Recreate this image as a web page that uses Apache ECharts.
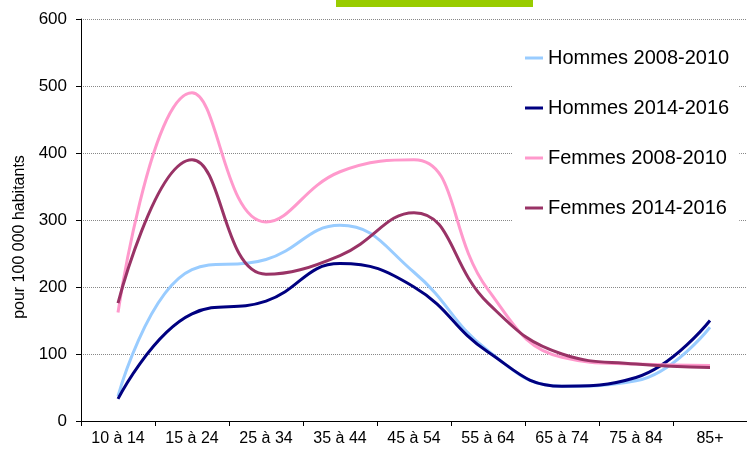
<!DOCTYPE html>
<html>
<head>
    <meta charset="utf-8">
    <title>Taux pour 100 000 habitants</title>
    <script src="https://cdn.jsdelivr.net/npm/echarts@6/dist/echarts.min.js"></script>
</head>
<body style="margin:0; background:#fff">
    <div id="main" style="width:747px; height:452px"></div>
    <script type="text/javascript">
        var ageGroups = ['10 à 14', '15 à 24', '25 à 34', '35 à 44', '45 à 54', '55 à 64', '65 à 74', '75 à 84', '85+'];
        var hommes0810 = [37, 226, 241, 292, 222, 105, 52, 60, 140];
        var hommes1416 = [33, 160, 179, 235, 200, 103, 52, 65, 150];
        var femmes0810 = [162, 490, 297, 372, 390, 196, 95, 85, 83];
        var femmes1416 = [176, 390, 219, 247, 311, 176, 100, 85, 80];
        var yTicks = [0, 100, 200, 300, 400, 500, 600];

        var myChart = echarts.init(document.getElementById('main'));
        var font = 'Liberation Sans, Arial, sans-serif';

        function serie(name, data, color) {
            return {
                name: name,
                type: 'line',
                data: data,
                smooth: 0.45,
                symbol: 'none',
                lineStyle: { color: color, width: 3 },
                itemStyle: { color: color }
            };
        }

option = {
    backgroundColor: '#fff',
    animation: false,
    textStyle: { fontFamily: font },
    graphic: [{
        type: 'rect',
        shape: { x: 336, y: 0, width: 197, height: 7 },
        style: { fill: '#99cc00' }
    }],
    grid: {
        left: 81,
        right: 0,
        top: 19,
        bottom: 31
    },
    legend: {
        orient: 'vertical',
        left: 512,
        top: 28,
        padding: [20, 10, 20, 13],
        backgroundColor: '#fff',
        icon: 'rect',
        itemWidth: 18,
        itemHeight: 3,
        itemGap: 30,
        textStyle: { fontSize: 20, color: '#000', fontFamily: font }
    },
    xAxis: {
        type: 'category',
        data: ageGroups,
        boundaryGap: true,
        axisLine: { lineStyle: { color: '#000', width: 1 } },
        axisTick: { show: true, length: 5, lineStyle: { color: '#000' } },
        axisLabel: { fontSize: 16, color: '#000', margin: 10, interval: 0 },
        splitLine: { show: false }
    },
    yAxis: {
        type: 'value',
        min: yTicks[0],
        max: yTicks[yTicks.length - 1],
        interval: 100,
        name: 'pour 100 000 habitants',
        nameLocation: 'middle',
        nameRotate: 90,
        nameGap: 53,
        nameTextStyle: { fontSize: 16, color: '#000', padding: [0, 34, 0, 0] },
        axisLine: { show: true, lineStyle: { color: '#000', width: 1 } },
        axisTick: { show: true, length: 5, lineStyle: { color: '#000' } },
        axisLabel: { fontSize: 17, color: '#000', margin: 14 },
        splitLine: { show: true, lineStyle: { color: '#888', type: 'dotted', width: 1 } }
    },
    series: [
        serie('Hommes 2008-2010', hommes0810, '#99ccff'),
        serie('Hommes 2014-2016', hommes1416, '#000080'),
        serie('Femmes 2008-2010', femmes0810, '#ff99cc'),
        serie('Femmes 2014-2016', femmes1416, '#993366')
    ]
};

        myChart.setOption(option);
    </script>
</body>
</html>
